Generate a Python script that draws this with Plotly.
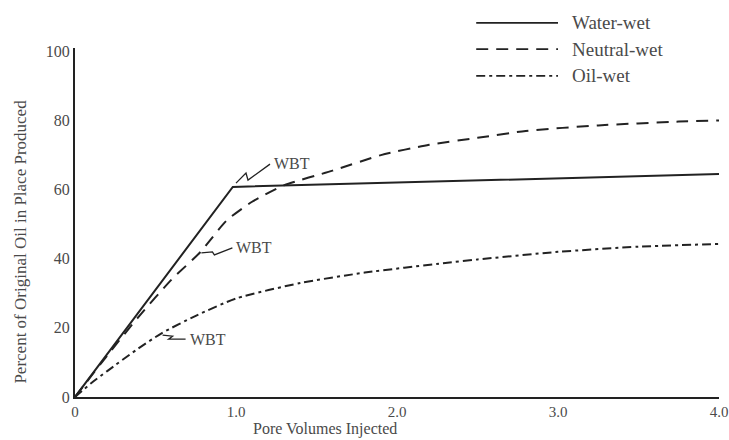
import plotly.graph_objects as go

# ---- data ----
water_x = [0, 0.98, 4.0]
water_y = [0, 60.8, 64.5]

neutral_x = [0, 0.2, 0.4, 0.6, 0.78, 0.94, 1.1, 1.3, 1.6, 1.9, 2.2, 2.5, 2.8, 3.25, 3.75, 4.0]
neutral_y = [0, 12, 23.5, 34, 42, 51, 56.5, 61.3, 65.5, 70, 73, 75, 77, 78.6, 79.7, 80]

oil_x = [0, 0.1, 0.2, 0.38, 0.54, 0.75, 1.0, 1.4, 1.8, 2.3, 2.5, 3.0, 3.5, 4.0]
oil_y = [0, 4, 7.5, 13.6, 18.5, 23.5, 28.5, 33, 36, 38.8, 39.8, 42, 43.5, 44.3]

# breakthrough (WBT) points
wbt_x = [1.0, 0.785, 0.544]
wbt_y = [61.9, 41.7, 17.9]

x_ticks = [0, 1, 2, 3, 4]
x_tick_text = ["0", "1.0", "2.0", "3.0", "4.0"]
y_ticks = [0, 20, 40, 60, 80, 100]

series_names = ["Water-wet", "Neutral-wet", "Oil-wet"]

FONT = "Liberation Serif"
TXT = "#4a4a4a"
LINE = "#222222"
dashes = ["solid", "12px,8px", "9px,4px,3px,4px"]

fig = go.Figure()
for (xs, ys), name, d in zip([(water_x, water_y), (neutral_x, neutral_y), (oil_x, oil_y)],
                             series_names, dashes):
    fig.add_trace(go.Scatter(
        x=xs, y=ys, mode="lines", name=name, showlegend=False,
        line=dict(color=LINE, width=2, dash=d,
                  shape="linear" if name == "Water-wet" else "spline", smoothing=0.6),
    ))

# zigzag pointers (pixel offsets relative to each WBT point, y up)
zig_paths = [
    "M0,0 L10,10 L12,3 L34,19",
    "M0,0 L11,1 L13,-2 L31,5",
    "M0,0 L10,-1 L6,-4 L23,-4",
]
label_shift = [(36, 20), (33, 5), (25, -4)]
for px, py, path, (sx, sy) in zip(wbt_x, wbt_y, zig_paths, label_shift):
    fig.add_shape(type="path", xref="x", yref="y", xsizemode="pixel", ysizemode="pixel",
                  xanchor=px, yanchor=py, path=path,
                  line=dict(color=LINE, width=1.3))
    fig.add_annotation(x=px, y=py, xref="x", yref="y", text="WBT", showarrow=False,
                       xanchor="left", yanchor="middle", xshift=sx, yshift=sy,
                       font=dict(family=FONT, size=16, color=TXT))

# legend drawn manually (long line samples like the reference)
leg_y = [1.072, 0.997, 0.920]
for name, d, ly in zip(series_names, dashes, leg_y):
    fig.add_shape(type="line", xref="paper", yref="paper", x0=0.623, x1=0.750, y0=ly, y1=ly,
                  line=dict(color=LINE, width=1.8, dash=d))
    fig.add_annotation(x=0.768, y=ly, xref="paper", yref="paper", text=name, showarrow=False,
                       xanchor="left", yanchor="middle",
                       font=dict(family=FONT, size=19, color=TXT))

# axis titles
fig.add_annotation(x=0.388, y=-0.092, xref="paper", yref="paper", text="Pore Volumes Injected",
                   showarrow=False, xanchor="center", yanchor="middle",
                   font=dict(family=FONT, size=16, color=TXT))
fig.add_annotation(x=-0.085, y=0.446, xref="paper", yref="paper",
                   text="Percent of Original Oil in Place Produced", textangle=-90,
                   showarrow=False, xanchor="center", yanchor="middle",
                   font=dict(family=FONT, size=17, color=TXT))

fig.update_layout(
    width=729, height=440,
    margin=dict(l=75, r=10, t=48, b=43, autoexpand=False),
    paper_bgcolor="white", plot_bgcolor="white",
    font=dict(family=FONT, size=15, color=TXT),
    showlegend=False,
    xaxis=dict(range=[0, 4.0], tickvals=x_ticks, ticktext=x_tick_text, showgrid=False,
               zeroline=False, showline=True, linecolor=LINE, linewidth=2, ticks="",
               ticklen=0, ticklabeloverflow="allow", automargin=False,
               tickfont=dict(family=FONT, size=15, color=TXT)),
    yaxis=dict(range=[0, 101], tickvals=y_ticks, showgrid=False, zeroline=False,
               showline=True, linecolor=LINE, linewidth=2, ticks="", ticklen=0,
               automargin=False,
               tickfont=dict(family=FONT, size=16, color=TXT)),
)

fig.write_html("out.html")
